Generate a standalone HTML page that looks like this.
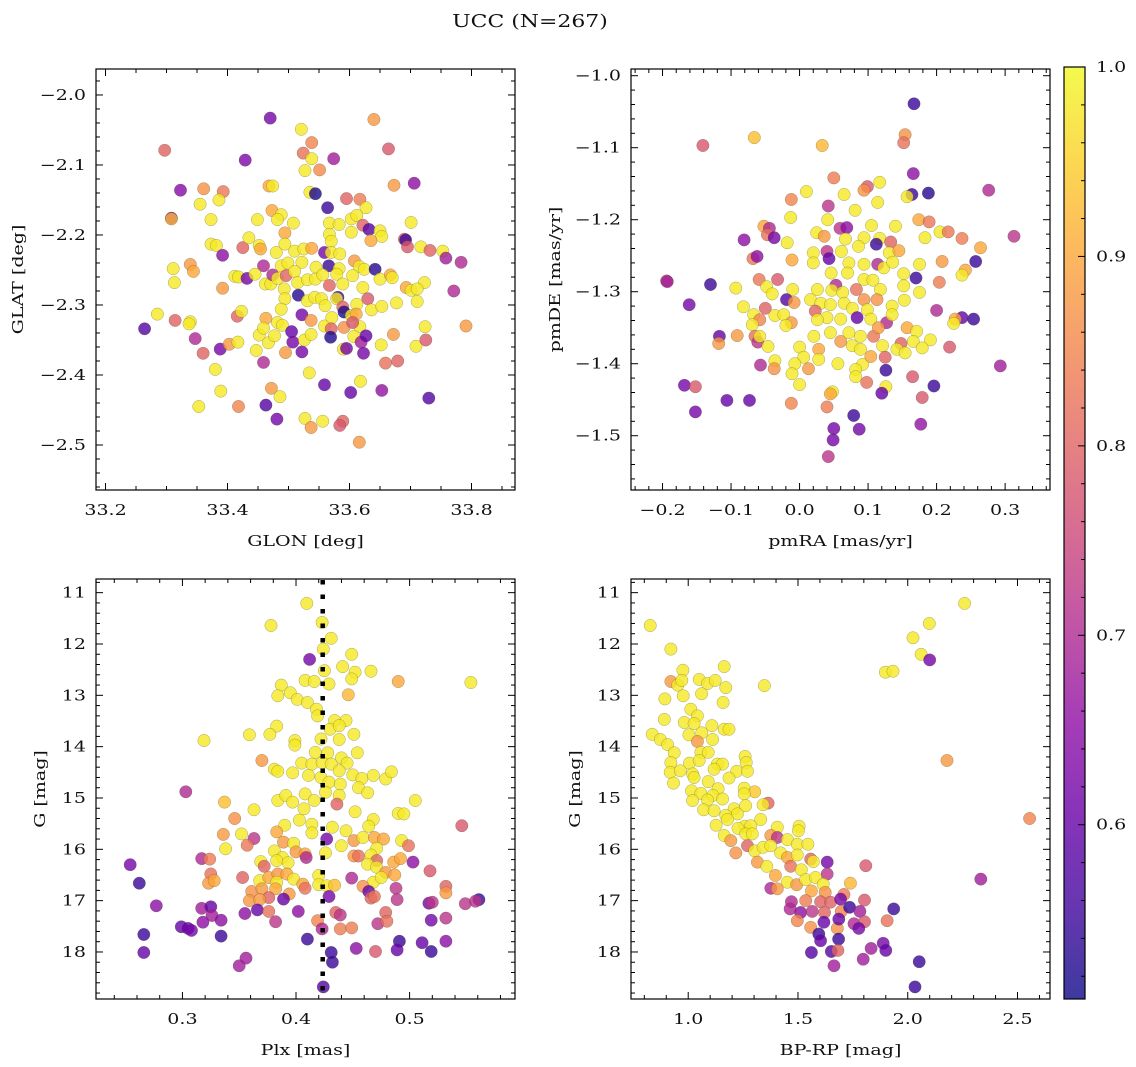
<!DOCTYPE html>
<html><head><meta charset="utf-8">
<style>
html,body{margin:0;padding:0;background:#fff;}
svg{display:block;font-family:"DejaVu Serif","Liberation Serif",serif;}
</style></head>
<body>
<svg id="fig" width="1136" height="1067" viewBox="0 0 1136 1067" xmlns="http://www.w3.org/2000/svg">
<text transform="translate(530,27) scale(1.22,1)" font-size="18" text-anchor="middle" fill="#111">UCC (N=267)</text>
</svg>
<script>
// ---------- Panel 1: GLON / GLAT ----------
const glon = [33.470,33.521,33.640,33.297,33.429,33.538,33.524,33.538,33.574,33.664,33.527,33.551,33.323,33.361,33.393,33.468,33.474,33.535,33.544,33.673,33.706,33.355,33.386,33.308,33.308,33.564,33.595,33.617,33.627,33.373,33.449,33.473,33.488,33.482,33.508,33.567,33.583,33.603,33.612,33.622,33.632,33.603,33.650,33.653,33.701,33.494,33.567,33.570,33.635,33.690,33.692,33.695,33.717,33.732,33.753,33.758,33.783,33.771,33.791,33.373,33.382,33.425,33.435,33.452,33.454,33.392,33.480,33.494,33.510,33.525,33.538,33.559,33.570,33.584,33.311,33.339,33.344,33.313,33.392,33.459,33.488,33.499,33.522,33.545,33.566,33.583,33.608,33.616,33.624,33.642,33.650,33.667,33.670,33.723,33.693,33.701,33.711,33.711,33.412,33.418,33.432,33.445,33.462,33.471,33.474,33.482,33.496,33.510,33.515,33.531,33.544,33.556,33.567,33.579,33.589,33.605,33.622,33.630,33.493,33.494,33.516,33.531,33.543,33.554,33.560,33.581,33.579,33.589,33.591,33.612,33.636,33.653,33.677,33.285,33.314,33.339,33.337,33.264,33.416,33.423,33.488,33.463,33.482,33.490,33.522,33.537,33.559,33.571,33.603,33.611,33.617,33.591,33.570,33.605,33.347,33.388,33.360,33.403,33.417,33.452,33.459,33.467,33.477,33.447,33.459,33.505,33.507,33.495,33.522,33.526,33.537,33.569,33.590,33.595,33.607,33.619,33.627,33.623,33.652,33.672,33.659,33.679,33.709,33.724,33.725,33.380,33.389,33.353,33.418,33.463,33.472,33.486,33.481,33.534,33.527,33.537,33.556,33.559,33.589,33.584,33.602,33.618,33.616,33.653,33.730];
const glat = [-2.033,-2.049,-2.035,-2.079,-2.093,-2.068,-2.083,-2.091,-2.091,-2.077,-2.108,-2.107,-2.136,-2.134,-2.138,-2.130,-2.130,-2.139,-2.141,-2.129,-2.126,-2.156,-2.150,-2.176,-2.177,-2.161,-2.148,-2.149,-2.161,-2.178,-2.178,-2.165,-2.171,-2.178,-2.183,-2.183,-2.185,-2.177,-2.172,-2.186,-2.192,-2.196,-2.194,-2.202,-2.182,-2.197,-2.199,-2.209,-2.208,-2.206,-2.207,-2.217,-2.217,-2.222,-2.223,-2.233,-2.239,-2.280,-2.330,-2.213,-2.215,-2.218,-2.204,-2.215,-2.220,-2.229,-2.225,-2.213,-2.223,-2.220,-2.219,-2.225,-2.225,-2.227,-2.248,-2.242,-2.252,-2.268,-2.276,-2.244,-2.244,-2.240,-2.239,-2.246,-2.244,-2.248,-2.237,-2.245,-2.249,-2.249,-2.263,-2.257,-2.261,-2.268,-2.275,-2.279,-2.277,-2.295,-2.259,-2.260,-2.262,-2.256,-2.270,-2.270,-2.257,-2.262,-2.258,-2.252,-2.268,-2.264,-2.263,-2.257,-2.272,-2.256,-2.270,-2.258,-2.275,-2.291,-2.277,-2.291,-2.286,-2.294,-2.289,-2.291,-2.301,-2.289,-2.291,-2.303,-2.310,-2.299,-2.307,-2.302,-2.297,-2.313,-2.322,-2.324,-2.327,-2.334,-2.316,-2.309,-2.306,-2.319,-2.325,-2.329,-2.314,-2.322,-2.330,-2.318,-2.315,-2.313,-2.331,-2.332,-2.334,-2.325,-2.348,-2.363,-2.369,-2.356,-2.353,-2.343,-2.333,-2.354,-2.344,-2.365,-2.382,-2.338,-2.353,-2.368,-2.367,-2.350,-2.342,-2.346,-2.363,-2.362,-2.345,-2.353,-2.344,-2.369,-2.357,-2.342,-2.383,-2.380,-2.359,-2.331,-2.350,-2.392,-2.423,-2.445,-2.445,-2.443,-2.419,-2.431,-2.463,-2.397,-2.462,-2.475,-2.466,-2.414,-2.466,-2.472,-2.425,-2.409,-2.496,-2.422,-2.433];
const probPos = [0.62,0.98,0.88,0.80,0.63,0.85,0.82,0.98,0.68,0.78,0.98,0.86,0.64,0.87,0.83,0.90,0.98,0.98,0.52,0.88,0.65,0.98,0.98,0.60,0.92,0.55,0.80,0.84,0.98,0.98,0.98,0.90,0.98,0.98,0.98,0.98,0.98,0.98,0.98,0.80,0.58,0.98,0.98,0.98,0.98,0.90,0.98,0.98,0.90,0.80,0.55,0.78,0.98,0.80,0.98,0.68,0.70,0.70,0.88,0.98,0.98,0.80,0.98,0.98,0.90,0.65,0.98,0.98,0.98,0.98,0.90,0.62,0.98,0.98,0.98,0.88,0.90,0.98,0.88,0.70,0.98,0.98,0.98,0.98,0.55,0.98,0.88,0.98,0.98,0.53,0.98,0.90,0.98,0.98,0.90,0.98,0.98,0.98,0.98,0.98,0.62,0.98,0.98,0.98,0.70,0.98,0.80,0.98,0.98,0.98,0.98,0.98,0.80,0.98,0.98,0.98,0.98,0.78,0.98,0.98,0.53,0.98,0.98,0.98,0.98,0.55,0.98,0.80,0.52,0.98,0.98,0.98,0.98,0.98,0.80,0.98,0.98,0.58,0.80,0.98,0.98,0.90,0.98,0.98,0.62,0.88,0.98,0.98,0.98,0.90,0.98,0.87,0.80,0.78,0.70,0.62,0.80,0.88,0.98,0.98,0.98,0.98,0.98,0.98,0.70,0.60,0.62,0.88,0.62,0.98,0.98,0.52,0.98,0.62,0.98,0.68,0.60,0.62,0.98,0.88,0.82,0.80,0.98,0.98,0.78,0.98,0.98,0.98,0.85,0.58,0.88,0.98,0.62,0.98,0.98,0.88,0.98,0.60,0.80,0.78,0.60,0.98,0.88,0.66,0.58];

// ---------- Panel 2: pmRA / pmDE ----------
const pmra = [0.167,-0.141,-0.066,0.033,0.154,0.152,0.166,0.050,0.099,0.094,0.117,0.010,0.065,0.164,0.157,0.188,0.276,-0.012,0.042,0.114,0.081,-0.013,0.041,0.174,0.189,-0.052,-0.044,-0.047,-0.037,-0.081,-0.018,0.025,0.036,0.059,0.069,0.067,0.094,0.105,0.117,0.112,0.140,0.133,0.183,0.205,0.217,0.237,0.264,0.313,0.257,0.242,0.237,0.208,0.204,0.040,0.043,0.020,0.061,0.086,0.131,0.145,-0.068,-0.062,-0.011,0.020,0.046,0.072,0.094,0.114,0.123,0.136,0.152,0.175,0.170,-0.194,-0.193,-0.130,-0.093,-0.059,-0.032,-0.048,-0.040,-0.010,0.070,0.053,0.026,0.047,0.063,0.083,0.094,0.107,0.118,0.152,0.175,-0.161,-0.082,-0.050,-0.019,-0.008,0.016,0.031,0.045,0.065,0.077,0.094,0.113,0.099,0.135,0.153,0.200,-0.067,-0.058,-0.036,-0.023,-0.012,0.023,0.040,0.026,0.060,0.084,0.104,0.127,0.135,0.237,0.254,0.227,0.225,-0.069,-0.020,-0.117,-0.118,-0.091,-0.065,-0.061,-0.058,-0.046,0.021,0.045,0.060,0.072,0.089,0.108,0.115,0.157,0.171,0.166,0.191,0.148,0.142,0.154,0.179,0.219,0.121,0.077,0.089,0.000,0.028,0.006,0.028,-0.036,-0.057,-0.037,-0.007,0.013,-0.011,0.000,0.056,0.092,0.104,0.082,0.082,0.125,0.126,0.293,0.165,0.098,0.196,0.126,0.120,-0.168,-0.152,0.048,0.045,0.179,-0.106,-0.073,-0.152,-0.012,0.040,0.079,0.177,0.050,0.087,0.049,0.042];
const pmde = [-1.039,-1.097,-1.086,-1.097,-1.082,-1.093,-1.136,-1.142,-1.154,-1.159,-1.148,-1.161,-1.165,-1.165,-1.168,-1.163,-1.159,-1.172,-1.181,-1.176,-1.187,-1.197,-1.200,-1.200,-1.203,-1.209,-1.212,-1.221,-1.225,-1.228,-1.232,-1.218,-1.223,-1.212,-1.211,-1.227,-1.225,-1.208,-1.226,-1.234,-1.209,-1.231,-1.225,-1.217,-1.217,-1.226,-1.239,-1.223,-1.258,-1.270,-1.277,-1.258,-1.287,-1.244,-1.254,-1.246,-1.244,-1.237,-1.246,-1.243,-1.254,-1.251,-1.256,-1.260,-1.274,-1.260,-1.262,-1.262,-1.267,-1.259,-1.275,-1.262,-1.281,-1.285,-1.286,-1.290,-1.295,-1.283,-1.283,-1.293,-1.303,-1.297,-1.274,-1.291,-1.297,-1.298,-1.301,-1.297,-1.283,-1.284,-1.297,-1.292,-1.301,-1.318,-1.321,-1.323,-1.311,-1.315,-1.311,-1.316,-1.318,-1.316,-1.323,-1.311,-1.311,-1.325,-1.320,-1.312,-1.326,-1.332,-1.339,-1.333,-1.332,-1.343,-1.327,-1.336,-1.339,-1.338,-1.336,-1.338,-1.343,-1.332,-1.336,-1.338,-1.338,-1.344,-1.346,-1.347,-1.362,-1.372,-1.361,-1.362,-1.370,-1.362,-1.376,-1.362,-1.357,-1.369,-1.357,-1.362,-1.362,-1.350,-1.350,-1.355,-1.369,-1.367,-1.372,-1.380,-1.385,-1.378,-1.377,-1.375,-1.375,-1.380,-1.377,-1.380,-1.391,-1.394,-1.396,-1.402,-1.407,-1.400,-1.407,-1.414,-1.429,-1.400,-1.401,-1.390,-1.408,-1.418,-1.391,-1.409,-1.403,-1.418,-1.426,-1.431,-1.432,-1.441,-1.430,-1.432,-1.439,-1.442,-1.447,-1.451,-1.451,-1.467,-1.455,-1.460,-1.472,-1.484,-1.490,-1.491,-1.506,-1.529];
const probPm = [0.55,0.78,0.93,0.92,0.87,0.82,0.65,0.84,0.78,0.87,0.98,0.98,0.98,0.55,0.98,0.53,0.70,0.85,0.72,0.98,0.98,0.98,0.98,0.90,0.83,0.90,0.70,0.82,0.62,0.65,0.98,0.98,0.88,0.72,0.65,0.98,0.98,0.98,0.98,0.55,0.98,0.80,0.98,0.98,0.83,0.84,0.90,0.72,0.55,0.90,0.98,0.88,0.84,0.72,0.60,0.98,0.98,0.98,0.98,0.90,0.83,0.65,0.90,0.98,0.98,0.98,0.98,0.70,0.98,0.98,0.98,0.98,0.55,0.75,0.68,0.55,0.98,0.83,0.78,0.98,0.98,0.98,0.98,0.70,0.98,0.98,0.98,0.82,0.98,0.98,0.98,0.98,0.98,0.62,0.98,0.80,0.58,0.88,0.98,0.98,0.98,0.98,0.98,0.87,0.87,0.98,0.98,0.98,0.70,0.98,0.85,0.98,0.98,0.88,0.80,0.98,0.98,0.98,0.60,0.98,0.70,0.98,0.60,0.55,0.90,0.98,0.98,0.98,0.60,0.88,0.88,0.82,0.72,0.98,0.98,0.98,0.98,0.88,0.98,0.98,0.83,0.88,0.90,0.98,0.98,0.98,0.80,0.98,0.98,0.98,0.78,0.98,0.98,0.98,0.98,0.90,0.98,0.98,0.98,0.70,0.87,0.98,0.88,0.98,0.98,0.98,0.98,0.90,0.98,0.98,0.80,0.55,0.68,0.78,0.82,0.55,0.98,0.60,0.62,0.78,0.98,0.90,0.78,0.60,0.60,0.62,0.85,0.84,0.55,0.66,0.62,0.62,0.62,0.72];

// ---------- Panel 3: Plx / G ----------
const plx = [0.4095,0.378,0.423,0.431,0.424,0.449,0.412,0.441,0.452,0.466,0.425,0.490,0.554,0.408,0.416,0.429,0.449,0.387,0.384,0.395,0.401,0.410,0.418,0.446,0.419,0.434,0.444,0.430,0.438,0.451,0.383,0.377,0.359,0.319,0.399,0.399,0.422,0.438,0.417,0.428,0.454,0.440,0.445,0.370,0.381,0.384,0.397,0.405,0.414,0.423,0.431,0.438,0.411,0.422,0.429,0.450,0.458,0.468,0.479,0.484,0.439,0.455,0.463,0.303,0.408,0.416,0.426,0.438,0.436,0.384,0.391,0.397,0.407,0.337,0.363,0.346,0.505,0.490,0.495,0.546,0.452,0.468,0.464,0.390,0.403,0.414,0.432,0.444,0.414,0.383,0.336,0.352,0.363,0.357,0.338,0.389,0.398,0.427,0.440,0.451,0.459,0.469,0.477,0.493,0.499,0.471,0.381,0.388,0.400,0.408,0.426,0.317,0.324,0.254,0.369,0.372,0.383,0.393,0.409,0.451,0.455,0.466,0.471,0.463,0.471,0.486,0.492,0.503,0.518,0.479,0.487,0.262,0.325,0.323,0.328,0.353,0.368,0.376,0.384,0.383,0.392,0.398,0.406,0.420,0.420,0.427,0.434,0.449,0.468,0.475,0.459,0.488,0.532,0.532,0.361,0.370,0.382,0.376,0.394,0.408,0.464,0.466,0.469,0.489,0.561,0.549,0.558,0.517,0.520,0.359,0.368,0.389,0.429,0.277,0.317,0.325,0.326,0.318,0.334,0.355,0.366,0.376,0.382,0.402,0.419,0.423,0.435,0.439,0.439,0.449,0.472,0.479,0.480,0.519,0.532,0.299,0.305,0.308,0.266,0.334,0.410,0.491,0.511,0.532,0.266,0.431,0.432,0.453,0.470,0.489,0.519,0.356,0.350,0.424];
const gmagPlx = [11.21,11.64,11.58,11.89,12.10,12.20,12.30,12.44,12.55,12.53,12.52,12.73,12.75,12.71,12.73,12.78,12.68,12.80,13.01,12.95,13.08,13.14,13.27,12.99,13.40,13.49,13.49,13.66,13.59,13.76,13.60,13.76,13.77,13.88,13.88,13.97,13.85,13.86,14.11,14.12,14.12,14.22,14.32,14.27,14.44,14.48,14.51,14.32,14.34,14.31,14.34,14.47,14.56,14.60,14.69,14.55,14.62,14.56,14.63,14.49,14.73,14.80,14.90,14.88,14.92,15.05,14.89,14.95,15.12,15.05,14.95,15.08,15.21,15.08,15.23,15.40,15.05,15.30,15.31,15.54,15.27,15.42,15.55,15.53,15.43,15.51,15.57,15.64,15.68,15.66,15.71,15.70,15.79,15.92,15.99,15.86,15.88,15.80,15.93,15.83,15.77,15.77,15.80,15.83,15.93,15.98,16.03,16.16,16.05,16.09,16.07,16.18,16.19,16.30,16.24,16.33,16.22,16.26,16.16,16.13,16.13,16.11,16.22,16.29,16.35,16.25,16.18,16.25,16.42,16.45,16.50,16.66,16.48,16.66,16.61,16.55,16.61,16.55,16.48,16.64,16.48,16.58,16.68,16.51,16.69,16.71,16.70,16.56,16.64,16.55,16.72,16.76,16.72,16.85,16.82,16.77,16.77,16.94,16.87,16.76,16.82,16.95,16.92,16.98,16.98,17.06,17.01,17.05,17.03,17.00,16.98,16.97,16.92,17.10,17.15,17.12,17.29,17.42,17.38,17.25,17.18,17.21,17.41,17.21,17.39,17.55,17.23,17.28,17.55,17.53,17.45,17.23,17.40,17.38,17.34,17.51,17.54,17.58,17.66,17.69,17.75,17.79,17.82,17.79,18.01,18.01,18.20,17.93,17.99,17.96,17.99,18.12,18.27,18.68];
const probPlx = [0.98,0.98,0.98,0.98,0.98,0.98,0.62,0.98,0.98,0.98,0.98,0.90,0.98,0.98,0.98,0.98,0.98,0.98,0.98,0.98,0.98,0.98,0.98,0.92,0.98,0.98,0.98,0.98,0.98,0.98,0.98,0.98,0.98,0.98,0.98,0.98,0.98,0.98,0.98,0.98,0.98,0.98,0.98,0.88,0.98,0.98,0.98,0.98,0.98,0.98,0.98,0.98,0.98,0.98,0.98,0.98,0.98,0.98,0.98,0.98,0.98,0.98,0.98,0.70,0.98,0.98,0.98,0.98,0.80,0.98,0.98,0.98,0.98,0.93,0.98,0.87,0.98,0.98,0.98,0.78,0.98,0.98,0.98,0.98,0.98,0.98,0.98,0.98,0.98,0.90,0.88,0.98,0.72,0.83,0.98,0.88,0.98,0.62,0.98,0.88,0.98,0.90,0.90,0.98,0.82,0.98,0.98,0.98,0.88,0.90,0.98,0.70,0.84,0.62,0.98,0.80,0.98,0.98,0.70,0.88,0.82,0.98,0.80,0.98,0.98,0.90,0.90,0.65,0.78,0.88,0.90,0.55,0.82,0.88,0.90,0.80,0.98,0.90,0.88,0.98,0.90,0.98,0.90,0.98,0.98,0.98,0.93,0.70,0.98,0.98,0.87,0.72,0.80,0.88,0.87,0.88,0.90,0.80,0.88,0.82,0.60,0.80,0.82,0.72,0.55,0.72,0.72,0.62,0.72,0.88,0.88,0.60,0.62,0.65,0.68,0.60,0.68,0.65,0.65,0.65,0.60,0.82,0.72,0.65,0.85,0.70,0.80,0.72,0.84,0.84,0.72,0.80,0.82,0.62,0.72,0.60,0.60,0.62,0.55,0.55,0.55,0.55,0.60,0.65,0.60,0.55,0.55,0.65,0.78,0.60,0.55,0.68,0.68,0.58];
const plxLine = 0.4235;

// ---------- Panel 4: BP-RP / G ----------
const bprp = [2.259,0.827,2.098,2.024,2.061,2.100,1.898,1.933,0.921,1.347,1.164,0.976,0.921,0.952,0.971,1.050,1.088,1.123,1.171,0.977,1.061,0.894,1.159,1.012,1.042,0.891,0.982,1.027,1.108,1.164,1.186,0.836,0.873,0.906,1.003,1.062,1.111,1.042,0.936,1.058,1.091,1.259,1.264,0.921,1.006,1.050,1.133,1.156,1.118,1.221,1.270,0.918,0.964,1.020,1.186,0.933,1.091,1.027,1.255,1.303,1.136,1.015,1.058,1.112,1.020,1.088,1.156,1.255,1.364,1.341,1.070,1.118,1.209,1.262,1.171,1.224,1.127,1.179,1.330,1.258,1.227,1.285,1.406,1.505,1.502,1.164,1.194,1.262,1.292,1.376,1.406,1.452,1.497,1.545,1.270,1.303,1.341,1.376,1.217,1.421,1.452,1.497,1.558,1.315,1.358,1.570,1.633,1.809,1.397,1.467,1.515,1.633,1.452,1.494,1.535,1.580,1.615,1.739,2.333,1.376,1.406,1.561,1.624,1.709,2.179,2.555,1.470,1.535,1.603,1.648,1.694,1.803,1.464,1.512,1.565,1.621,1.697,1.735,1.782,1.936,1.497,1.558,1.618,1.679,1.686,1.755,1.803,1.777,1.906,1.595,1.603,1.685,1.561,1.652,1.682,1.833,1.888,1.900,1.797,1.664,2.052,2.033];
const gmagCmd = [11.21,11.64,11.60,11.88,12.20,12.31,12.55,12.53,12.10,12.81,12.44,12.51,12.73,12.80,12.71,12.69,12.77,12.71,12.85,13.01,12.97,13.07,13.14,13.27,13.40,13.47,13.53,13.55,13.59,13.66,13.66,13.76,13.86,13.96,13.77,13.73,13.86,13.90,14.12,14.11,14.11,14.19,14.31,14.31,14.32,14.27,14.34,14.34,14.44,14.48,14.48,14.50,14.47,14.53,14.61,14.71,14.68,14.60,14.81,14.88,14.82,14.86,14.91,14.95,15.05,15.04,15.02,14.92,15.10,15.13,15.23,15.25,15.21,15.15,15.34,15.31,15.53,15.42,15.42,15.55,15.59,15.54,15.57,15.55,15.64,15.73,15.83,15.70,15.70,15.73,15.77,15.81,15.90,15.90,15.93,16.03,15.96,15.93,16.07,16.07,16.16,16.11,16.19,16.25,16.33,16.24,16.25,16.32,16.51,16.33,16.40,16.48,16.64,16.69,16.59,16.55,16.68,16.66,16.58,16.76,16.77,16.81,16.84,16.88,14.27,15.40,17.02,17.00,17.02,17.03,16.97,16.99,17.16,17.23,17.21,17.23,17.21,17.13,17.21,17.16,17.39,17.52,17.42,17.54,17.36,17.45,17.41,17.54,17.39,17.65,17.78,17.75,18.01,17.99,17.97,17.93,17.83,17.97,18.14,18.27,18.19,18.68];
const probCmd = [0.98,0.98,0.98,0.98,0.98,0.62,0.98,0.98,0.98,0.98,0.98,0.98,0.88,0.98,0.98,0.98,0.98,0.98,0.98,0.98,0.98,0.98,0.98,0.98,0.98,0.98,0.98,0.98,0.98,0.98,0.98,0.98,0.98,0.98,0.98,0.98,0.98,0.88,0.98,0.98,0.98,0.98,0.98,0.98,0.98,0.98,0.98,0.98,0.98,0.98,0.98,0.98,0.98,0.98,0.98,0.98,0.98,0.98,0.98,0.94,0.98,0.98,0.98,0.98,0.98,0.98,0.98,0.98,0.80,0.98,0.98,0.98,0.98,0.98,0.98,0.98,0.98,0.98,0.98,0.98,0.98,0.98,0.98,0.98,0.98,0.98,0.88,0.98,0.98,0.88,0.72,0.98,0.98,0.98,0.80,0.98,0.98,0.98,0.87,0.98,0.90,0.98,0.80,0.88,0.98,0.98,0.62,0.78,0.90,0.82,0.98,0.72,0.98,0.88,0.98,0.98,0.98,0.92,0.68,0.70,0.88,0.90,0.87,0.84,0.88,0.85,0.70,0.84,0.80,0.80,0.62,0.78,0.70,0.65,0.72,0.80,0.85,0.55,0.68,0.55,0.85,0.87,0.60,0.87,0.60,0.70,0.78,0.62,0.82,0.55,0.60,0.55,0.58,0.58,0.80,0.68,0.62,0.60,0.68,0.68,0.55,0.55];

// ---------- Colorbar ----------
const cbarMin = 0.508, cbarMax = 1.0;
const cbarTicks = [0.6, 0.7, 0.8, 0.9, 1.0];

const plasmaStops = ["#0d0887","#41049d","#6a00a8","#8f0da4","#b12a90","#cc4778","#e16462","#f2844b","#fca636","#fcce25","#f0f921"];
function hex2rgb(h){return [parseInt(h.substr(1,2),16),parseInt(h.substr(3,2),16),parseInt(h.substr(5,2),16)];}
function plasma(t){
  t=Math.max(0,Math.min(1,t));
  const f=t*10, i=Math.min(9,Math.floor(f)), r=f-i;
  const a=hex2rgb(plasmaStops[i]), b=hex2rgb(plasmaStops[i+1]);
  return "rgb("+a.map((v,k)=>Math.round(v+(b[k]-v)*r)).join(",")+")";
}
function colorOf(p){return plasma((p-cbarMin)/(cbarMax-cbarMin));}

const NS="http://www.w3.org/2000/svg";
const svg=document.getElementById("fig");
function el(tag,attrs,parent){const e=document.createElementNS(NS,tag);for(const k in attrs)e.setAttribute(k,attrs[k]);(parent||svg).appendChild(e);return e;}
function fmt(v,d){const s=Math.abs(v).toFixed(d);return (v<-1e-9?"\u2212":"")+s;}
const SX=1.27;
function txt(parent,x,y,s,anchor,rot){
  const t=el("text",{transform:"translate("+x+","+y+")"+(rot?" rotate(-90)":"")+" scale("+SX+",1)","font-size":15,"text-anchor":anchor,fill:"#111"},parent);
  t.textContent=s;return t;
}

function panel(cfg){
  const g=el("g",{});
  
  
  const {x0,y0,w,h,xmin,xmax,ymin,ymax}=cfg;
  const sx=v=>x0+(v-xmin)/(xmax-xmin)*w;
  const sy=cfg.invert? (v=>y0+(v-ymin)/(ymax-ymin)*h) : (v=>y0+h-(v-ymin)/(ymax-ymin)*h);
  const pg=el("g",{},g);
  
  
  for(let i=0;i<cfg.xs.length;i++){
    const c=el("circle",{cx:sx(cfg.xs[i]).toFixed(1),cy:sy(cfg.ys[i]).toFixed(1),r:6.2,fill:colorOf(cfg.ps[i]),"fill-opacity":0.8,stroke:"rgba(70,70,40,0.45)","stroke-width":0.5},pg);
    
    
  }
  if(cfg.vline!==undefined){
    const l=el("line",{x1:sx(cfg.vline),x2:sx(cfg.vline),y1:y0+1,y2:y0+h,stroke:"#000","stroke-width":4.5,"stroke-dasharray":"4.5 10"},g);
    
    
  }
  const fr=el("rect",{x:x0,y:y0,width:w,height:h,fill:"none",stroke:"#000","stroke-width":1.2},g);
  
  
  const tg=el("g",{stroke:"#000","stroke-width":1},g);
  
  
  const eps=1e-9;
  const lo=Math.min(xmin,xmax), hi=Math.max(xmin,xmax);
  for(let v=Math.ceil(lo/cfg.xminor-eps)*cfg.xminor; v<=hi+eps; v+=cfg.xminor){
    const major=Math.abs(v/cfg.xmajor-Math.round(v/cfg.xmajor))<1e-6;
    const L=major?7:4, X=sx(v);
    el("line",{x1:X,x2:X,y1:y0+h,y2:y0+h-L},tg);
    el("line",{x1:X,x2:X,y1:y0,y2:y0+L},tg);
  }
  const ylo=Math.min(ymin,ymax), yhi=Math.max(ymin,ymax);
  for(let v=Math.ceil(ylo/cfg.yminor-eps)*cfg.yminor; v<=yhi+eps; v+=cfg.yminor){
    const major=Math.abs(v/cfg.ymajor-Math.round(v/cfg.ymajor))<1e-6;
    const L=major?7:4, Y=sy(v);
    el("line",{x1:x0,x2:x0+L,y1:Y,y2:Y},tg);
    el("line",{x1:x0+w,x2:x0+w-L,y1:Y,y2:Y},tg);
  }
  cfg.xticks.forEach(v=>{
    const t=txt(g,sx(v),y0+h+25,fmt(v,cfg.xdec),"middle");
    
    
  });
  cfg.yticks.forEach(v=>{
    const t=txt(g,x0-10,sy(v)+5,fmt(v,cfg.ydec),"end");
    
    
  });
  const xl=txt(g,x0+w/2,y0+h+56,cfg.xlabel,"middle");
  
  
  const yl=txt(g,cfg.ylx,y0+h/2,cfg.ylabel,"middle",true);
  
  
}

panel({name:"glon-glat-panel",x0:96,y0:69,w:419,h:421,xmin:33.1844,xmax:33.8713,ymin:-2.5643,ymax:-1.9629,
  xs:glon,ys:glat,ps:probPos,xmajor:0.2,xminor:0.05,ymajor:0.1,yminor:0.02,
  xticks:[33.2,33.4,33.6,33.8],yticks:[-2.0,-2.1,-2.2,-2.3,-2.4,-2.5],xdec:1,ydec:1,
  xlabel:"GLON [deg]",ylabel:"GLAT [deg]",ylx:23});
panel({name:"pm-panel",x0:631,y0:69,w:419,h:421,xmin:-0.246,xmax:0.3655,ymin:-1.5754,ymax:-0.9907,
  xs:pmra,ys:pmde,ps:probPm,xmajor:0.1,xminor:0.02,ymajor:0.1,yminor:0.02,
  xticks:[-0.2,-0.1,0.0,0.1,0.2,0.3],yticks:[-1.0,-1.1,-1.2,-1.3,-1.4,-1.5],xdec:1,ydec:1,
  xlabel:"pmRA [mas/yr]",ylabel:"pmDE [mas/yr]",ylx:560});
panel({name:"plx-g-panel",x0:96,y0:579,w:419,h:420,xmin:0.2239,xmax:0.5928,ymin:10.734,ymax:18.916,invert:true,
  xs:plx,ys:gmagPlx,ps:probPlx,vline:plxLine,xmajor:0.1,xminor:0.02,ymajor:1,yminor:0.2,
  xticks:[0.3,0.4,0.5],yticks:[11,12,13,14,15,16,17,18],xdec:1,ydec:0,
  xlabel:"Plx [mas]",ylabel:"G [mag]",ylx:45});
panel({name:"cmd-panel",x0:631,y0:579,w:419,h:420,xmin:0.7394,xmax:2.648,ymin:10.734,ymax:18.916,invert:true,
  xs:bprp,ys:gmagCmd,ps:probCmd,xmajor:0.5,xminor:0.1,ymajor:1,yminor:0.2,
  xticks:[1.0,1.5,2.0,2.5],yticks:[11,12,13,14,15,16,17,18],xdec:1,ydec:0,
  xlabel:"BP-RP [mag]",ylabel:"G [mag]",ylx:580});

(function(){
  const cx=1064, cy=67, cw=21, ch=932;
  const defs=el("defs",{});
  const lg=el("linearGradient",{id:"cbg",x1:0,y1:1,x2:0,y2:0},defs);
  for(let i=0;i<=20;i++){
    const t=i/20;
    el("stop",{offset:t,"stop-color":colorOf(cbarMin+t*(cbarMax-cbarMin)),"stop-opacity":0.8},lg);
  }
  const g=el("g",{});
  
  
  el("rect",{x:cx,y:cy,width:cw,height:ch,fill:"url(#cbg)"},g);
  el("rect",{x:cx,y:cy,width:cw,height:ch,fill:"none",stroke:"#000","stroke-width":1.2},g);
  const ys=v=>cy+ch-(v-cbarMin)/(cbarMax-cbarMin)*ch;
  for(let v=0.52; v<=1.0001; v+=0.02){
    const major=Math.abs(v*10-Math.round(v*10))<1e-6;
    const L=major?7:4;
    el("line",{x1:cx+cw,x2:cx+cw-L,y1:ys(v),y2:ys(v),stroke:"#000","stroke-width":1},g);
  }
  cbarTicks.forEach(v=>{
    const t=txt(g,cx+cw+11,ys(v)+5,v.toFixed(1),"start");
    
    
  });
})();
</script>
</body></html>
